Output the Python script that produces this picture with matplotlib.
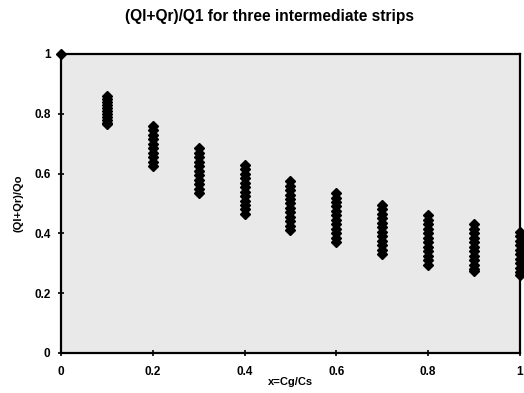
import matplotlib.pyplot as plt

# values
x_pos = [0.1, 0.2, 0.3, 0.4, 0.5, 0.6, 0.7, 0.8, 0.9, 1.0]
y_x01 = [0.86, 0.85, 0.84, 0.83, 0.82, 0.81, 0.80, 0.79, 0.78, 0.77, 0.765]
y_x02 = [0.76, 0.745, 0.73, 0.715, 0.70, 0.685, 0.67, 0.655, 0.64, 0.625]
y_x03 = [0.685, 0.67, 0.655, 0.64, 0.625, 0.61, 0.595, 0.58, 0.565, 0.55, 0.535]
y_x04 = [0.63, 0.615, 0.60, 0.585, 0.57, 0.555, 0.54, 0.525, 0.51, 0.495, 0.48, 0.465]
y_x05 = [0.575, 0.56, 0.545, 0.53, 0.515, 0.50, 0.485, 0.47, 0.455, 0.44, 0.425, 0.41]
y_x06 = [0.535, 0.52, 0.505, 0.49, 0.475, 0.46, 0.445, 0.43, 0.415, 0.40, 0.385, 0.37]
y_x07 = [0.495, 0.48, 0.465, 0.45, 0.435, 0.42, 0.405, 0.39, 0.375, 0.36, 0.345, 0.33]
y_x08 = [0.46, 0.445, 0.43, 0.415, 0.40, 0.385, 0.37, 0.355, 0.34, 0.325, 0.31, 0.295]
y_x09 = [0.43, 0.415, 0.40, 0.385, 0.37, 0.355, 0.34, 0.325, 0.31, 0.295, 0.28, 0.275]
y_x10 = [0.405, 0.39, 0.375, 0.36, 0.345, 0.33, 0.315, 0.30, 0.285, 0.27, 0.26]
strips = [y_x01, y_x02, y_x03, y_x04, y_x05, y_x06, y_x07, y_x08, y_x09, y_x10]
x_origin, y_origin = 0.0, 1.0

ticks = [0, 0.2, 0.4, 0.6, 0.8, 1]
tick_labels = ["0", "0.2", "0.4", "0.6", "0.8", "1"]

plt.rcParams['font.family'] = 'Liberation Sans'
plt.rcParams['font.weight'] = 'bold'

fig = plt.figure(figsize=(5.24, 3.93), dpi=100)
ax = fig.add_axes([0.1164, 0.1018, 0.8756, 0.7608])
ax.set_facecolor('#e9e9e9')

for xv, ys in zip(x_pos, strips):
    ax.plot([xv] * len(ys), ys, linestyle='none', marker='D', markersize=5,
            color='black', clip_on=False)
ax.plot([x_origin], [y_origin], linestyle='none', marker='D', markersize=5,
        color='black', clip_on=False)

ax.set_xlim(0, 1)
ax.set_ylim(0, 1)
ax.set_xticks(ticks)
ax.set_xticklabels(tick_labels)
ax.set_yticks(ticks)
ax.set_yticklabels(tick_labels)
ax.tick_params(direction='inout', length=5, width=1.2, labelsize=8.5)
ax.tick_params(axis='x', pad=7)
ax.tick_params(axis='y', pad=5)
for s in ax.spines.values():
    s.set_linewidth(1.6)
    s.set_color('black')

ax.set_xlabel('x=Cg/Cs', fontsize=8, fontweight='bold', labelpad=-1)
ax.set_ylabel('(Ql+Qr)/Qo', fontsize=8, fontweight='bold', labelpad=8)
fig.suptitle('(Ql+Qr)/Q1 for three intermediate strips', fontsize=11.2,
             fontweight='bold', x=0.515, y=0.978)

fig.savefig('out.png', dpi=100)
